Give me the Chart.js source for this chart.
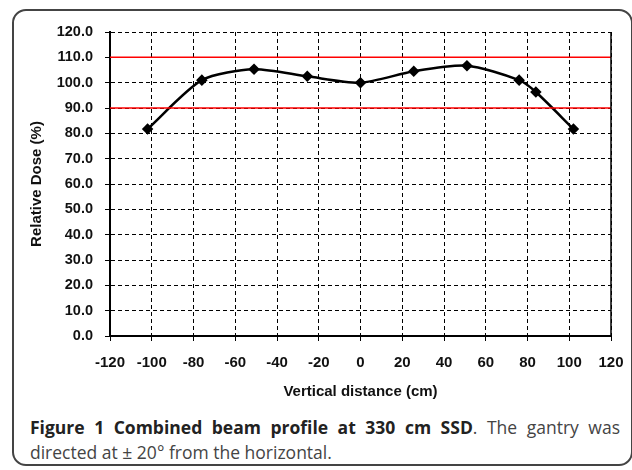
<!DOCTYPE html>
<html>
<head>
<meta charset="utf-8">
<script src="https://cdn.jsdelivr.net/npm/chart.js@4"></script>
<style>
  html, body { margin: 0; padding: 0; background: #fff; }
  #wrap { position: relative; width: 632px; height: 470px; overflow: hidden; }
  #frame {
    position: absolute; left: 12px; top: 9px; width: 621px; height: 457px;
    border: 2px solid #444; border-radius: 14px; box-sizing: border-box;
  }
  #chartBox { position: absolute; left: 0; top: 0; width: 632px; height: 410px; }
  #caption {
    position: absolute; left: 30px; top: 415px; width: 590px;
    font-family: "Open Sans", sans-serif; font-size: 17.5px; line-height: 25px;
    color: #444; text-align: justify; text-align-last: left;
  }
  #caption b { color: #222; }
</style>
</head>
<body>
<div id="wrap">
  <div id="frame"></div>
  <div id="chartBox"><canvas id="chart" width="632" height="410"></canvas></div>
  <div id="caption"><b>Figure 1 Combined beam profile at 330 cm SSD</b>. The gantry was directed at ± 20° from the horizontal.</div>
</div>
<script>
// beam profile readings
const distances = [-102, -76, -51, -25.5, 0, 25.5, 51, 76, 84, 102];
const doses = [81.7, 101.0, 105.3, 102.5, 100.0, 104.5, 106.7, 101.0, 96.3, 81.7];

// tolerance lines (%), drawn across the whole x range
const upperLimit = 110;
const lowerLimit = 90;
const xRange = [-120, 120];
const yRange = [0, 120];

const profilePoints = distances.map((d, i) => ({ x: d, y: doses[i] }));
const limitLine = v => xRange.map(x => ({ x: x, y: v }));

// solid frame on the right side of the plot
const rightEdge = {
    id: 'rightEdge',
    afterDraw(chart) {
        const { ctx, chartArea } = chart;
        ctx.save();
        ctx.strokeStyle = '#000';
        ctx.lineWidth = 1.5;
        ctx.beginPath();
        ctx.moveTo(chartArea.right, chartArea.top);
        ctx.lineTo(chartArea.right, chartArea.bottom);
        ctx.stroke();
        ctx.restore();
    }
};

const gridStyle = {
    color: '#000',
    lineWidth: 1,
    tickColor: '#000',
    tickLength: 5,
    tickBorderDash: []
};
const axisBorder = { color: '#000', width: 2, dash: [4, 3] };

new Chart(document.getElementById('chart'), {
    type: 'line',
    data: {
        datasets: [
            {
                label: 'Upper',
                data: limitLine(upperLimit),
                borderColor: '#f00',
                borderWidth: 1.5,
                pointRadius: 0
            },
            {
                label: 'Lower',
                data: limitLine(lowerLimit),
                borderColor: '#f00',
                borderWidth: 1.5,
                pointRadius: 0
            },
            {
                label: 'Relative Dose',
                data: profilePoints,
                borderColor: '#000',
                backgroundColor: '#000',
                borderWidth: 2.5,
                tension: 0.25,
                pointStyle: 'rectRot',
                pointRadius: 4,
                pointBackgroundColor: '#000'
            }
        ]
    },
    options: {
        responsive: false,
        animation: false,
        layout: { padding: { left: 24, right: 21, top: 32, bottom: 5 } },
        plugins: {
            legend: { display: false },
            tooltip: { enabled: false }
        },
        scales: {
            x: {
                type: 'linear',
                min: xRange[0],
                max: xRange[1],
                afterFit: s => { s.height = 69; },
                ticks: {
                    stepSize: 20,
                    padding: 8,
                    color: '#111',
                    font: { family: 'Liberation Sans', size: 15, weight: 'bold', lineHeight: 1.8 }
                },
                grid: gridStyle,
                border: axisBorder,
                title: {
                    display: true,
                    text: 'Vertical distance (cm)',
                    color: '#111',
                    padding: { top: 4, bottom: 4 },
                    font: { family: 'Liberation Sans', size: 15, weight: 'bold' }
                }
            },
            y: {
                min: yRange[0],
                max: yRange[1],
                afterFit: s => { s.width = 86; },
                ticks: {
                    stepSize: 10,
                    padding: 12,
                    color: '#111',
                    callback: v => v.toFixed(1),
                    font: { family: 'Liberation Sans', size: 14.5, weight: 'bold' }
                },
                grid: gridStyle,
                border: axisBorder,
                title: {
                    display: true,
                    text: 'Relative Dose (%)',
                    color: '#111',
                    padding: { top: 4, bottom: 4 },
                    font: { family: 'Liberation Sans', size: 15, weight: 'bold' }
                }
            }
        }
    },
    plugins: [rightEdge]
});
</script>
</body>
</html>
